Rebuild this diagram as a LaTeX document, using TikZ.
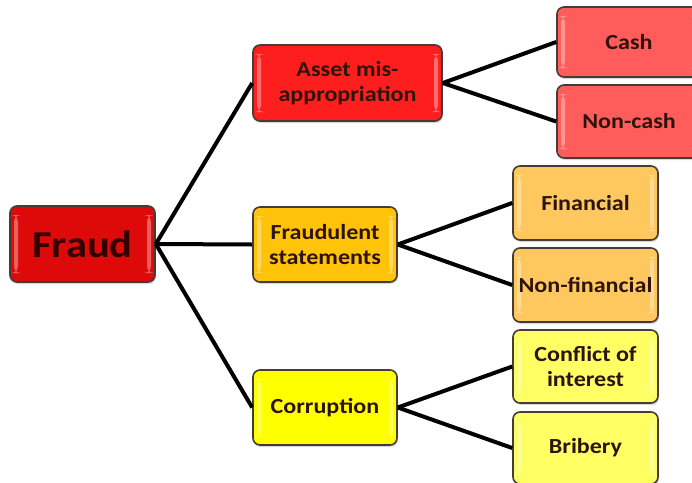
\documentclass[tikz,border=0pt]{standalone}
\usepackage{fontspec}
\setmainfont{Carlito}[FakeStretch=1.12]
\usetikzlibrary{shadows}
\definecolor{cFraud}{RGB}{222,10,10}
\definecolor{cAsset}{RGB}{255,30,30}
\definecolor{cCash}{RGB}{255,92,92}
\definecolor{cStmt}{RGB}{255,195,10}
\definecolor{cFin}{RGB}{255,200,95}
\definecolor{cCorr}{RGB}{255,255,0}
\definecolor{cConf}{RGB}{255,255,100}
\definecolor{cText}{RGB}{45,20,10}
\definecolor{cFraudText}{RGB}{50,0,0}
\definecolor{cBorder}{RGB}{70,60,55}
\begin{document}
\begin{tikzpicture}[x=1pt,y=-1pt,
  box/.style={draw=cBorder, line width=1.6pt, rounded corners=7pt,
    align=center, inner sep=0pt, text=cText,
    font=\bfseries\fontsize{21.5}{25}\selectfont,
    drop shadow={shadow xshift=1pt, shadow yshift=-2pt, opacity=0.3},
    path picture={
      \fill[white,opacity=0.35] ([shift={(4,9)}]path picture bounding box.north west) rectangle ([shift={(8,-9)}]path picture bounding box.south west);
      \fill[white,opacity=0.35] ([shift={(-8,9)}]path picture bounding box.north east) rectangle ([shift={(-4,-9)}]path picture bounding box.south east);
    }},
  link/.style={line width=4pt, black}]
\useasboundingbox (0,0) rectangle (692,482);
\fill[white] (0,0) rectangle (692,482);

\node[box, fill=cFraud, minimum width=145pt, minimum height=76pt, font=\bfseries\fontsize{38}{42}\selectfont, text=cFraudText] (fraud) at (82.5,244) {Fraud};

\node[box, fill=cAsset, minimum width=189pt, minimum height=76pt] (asset) at (347.5,83) {Asset mis-\\appropriation};
\node[box, fill=cStmt, minimum width=144pt, minimum height=75pt] (stmt) at (325,244.5) {Fraudulent\\statements};
\node[box, fill=cCorr, minimum width=144pt, minimum height=75pt] (corr) at (325,407.5) {Corruption};

\node[box, fill=cCash, minimum width=144pt, minimum height=70pt] (cash) at (629,42) {Cash};
\node[box, fill=cCash, minimum width=144pt, minimum height=73pt] (noncash) at (629,121.5) {Non-cash};
\node[box, fill=cFin, minimum width=145pt, minimum height=74pt] (fin) at (585.5,203) {Financial};
\node[box, fill=cFin, minimum width=145pt, minimum height=74pt] (nonfin) at (585.5,285) {Non-financial};
\node[box, fill=cConf, minimum width=145pt, minimum height=73pt] (conf) at (585.5,366.5) {Conflict of\\interest};
\node[box, fill=cConf, minimum width=145pt, minimum height=72pt] (brib) at (585.5,448) {Bribery};

\draw[link] (fraud.east) -- (asset.west);
\draw[link] (fraud.east) -- (stmt.west);
\draw[link] (fraud.east) -- (corr.west);
\draw[link] (asset.east) -- (cash.west);
\draw[link] (asset.east) -- (noncash.west);
\draw[link] (stmt.east) -- (fin.west);
\draw[link] (stmt.east) -- (nonfin.west);
\draw[link] (corr.east) -- (conf.west);
\draw[link] (corr.east) -- (brib.west);
\end{tikzpicture}
\end{document}
